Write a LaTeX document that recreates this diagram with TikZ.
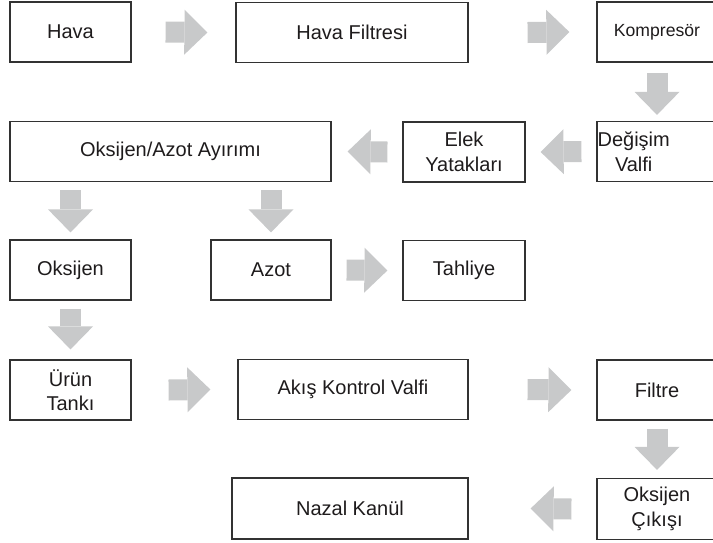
\documentclass[tikz,border=0pt]{standalone}
\usepackage{fontspec}
\setmainfont{Liberation Sans}
\usetikzlibrary{arrows.meta}
\definecolor{flowgray}{RGB}{200,201,202}
\definecolor{boxline}{RGB}{50,50,50}
\definecolor{inktext}{RGB}{30,27,28}
\tikzset{
  box/.style={draw=boxline, line width=1.2pt, minimum width=#1, minimum height=60pt,
    inner sep=0pt, align=center, text=inktext, font=\fontsize{20}{24.5}\selectfont},
  box/.default=121pt,
  flow/.style={draw=flowgray, line width=21pt,
    -{Triangle[width=45pt,length=23pt,line width=0pt]}}
}
\begin{document}
\begin{tikzpicture}[x=1pt,y=-1pt]
      \useasboundingbox (0,0) rectangle (713,542);
      \clip (0,0) rectangle (713,542);
      % boxes
      \node[box] (hava) at (70.5,32) {Hava};
      \node[box=232pt] (filtre) at (352,32.5) {Hava Filtresi};
      \node[box=120pt, font=\fontsize{17.6}{21}\selectfont] (kompresor) at (657,32) {Kompresör};
      \node[box=120pt] (degisim) at (657,151.5) {};
      \node[anchor=west, inner xsep=1pt, align=center, text=inktext,
        font=\fontsize{20}{24.5}\selectfont] (degisimtxt) at (degisim.west) {Değişim\\Valfi};
      \node[box=122pt] (elek) at (464,152) {Elek\\Yatakları};
      \node[box=321pt] (ayirim) at (170.5,151.5) {Oksijen/Azot Ayırımı};
      \node[box] (oksijen) at (70.5,270) {Oksijen};
      \node[box=120pt] (azot) at (271,270) {Azot};
      \node[box=122pt] (tahliye) at (464,270.5) {Tahliye};
      \node[box] (urun) at (70.5,390) {Ürün\\Tankı};
      \node[box=230pt] (akis) at (353,389.5) {Akış Kontrol Valfi};
      \node[box=120pt] (filtre2) at (657,390) {Filtre};
      \node[box=120pt, minimum height=61pt] (cikis) at (657,509) {Oksijen\\Çıkışı};
      \node[box=236pt, minimum height=61pt] (nazal) at (350,508.5) {Nazal Kanül};
      % flow arrows
      \draw[flow] ([xshift=34pt]hava.east) -- ([xshift=-28pt]filtre.west);
      \draw[flow] ([xshift=59pt]filtre.east) -- ([xshift=-27pt]kompresor.west);
      \draw[flow] ([yshift=-10pt]kompresor.south) -- ([yshift=6pt]degisim.north);
      \draw[flow] ([xshift=-15pt]degisim.west) -- ([xshift=15pt]elek.east);
      \draw[flow] ([xshift=-15pt]elek.west) -- ([xshift=16pt]ayirim.east);
      \draw[flow] ([yshift=-8pt]ayirim.south -| oksijen) -- ([yshift=7pt]oksijen.north);
      \draw[flow] ([yshift=-8pt]ayirim.south -| azot) -- ([yshift=7pt]azot.north);
      \draw[flow] ([xshift=15pt]azot.east) -- ([xshift=-15pt]tahliye.west);
      \draw[flow] ([yshift=-8pt]oksijen.south) -- ([yshift=10pt]urun.north);
      \draw[flow] ([xshift=37pt]urun.east) -- ([xshift=-27pt]akis.west);
      \draw[flow] ([xshift=59pt]akis.east) -- ([xshift=-25pt]filtre2.west);
      \draw[flow] ([yshift=-8pt]filtre2.south) -- ([yshift=8pt]cikis.north);
      \draw[flow] ([xshift=-25pt]cikis.west) -- ([xshift=62pt]nazal.east);
    \end{tikzpicture}
\end{document}
